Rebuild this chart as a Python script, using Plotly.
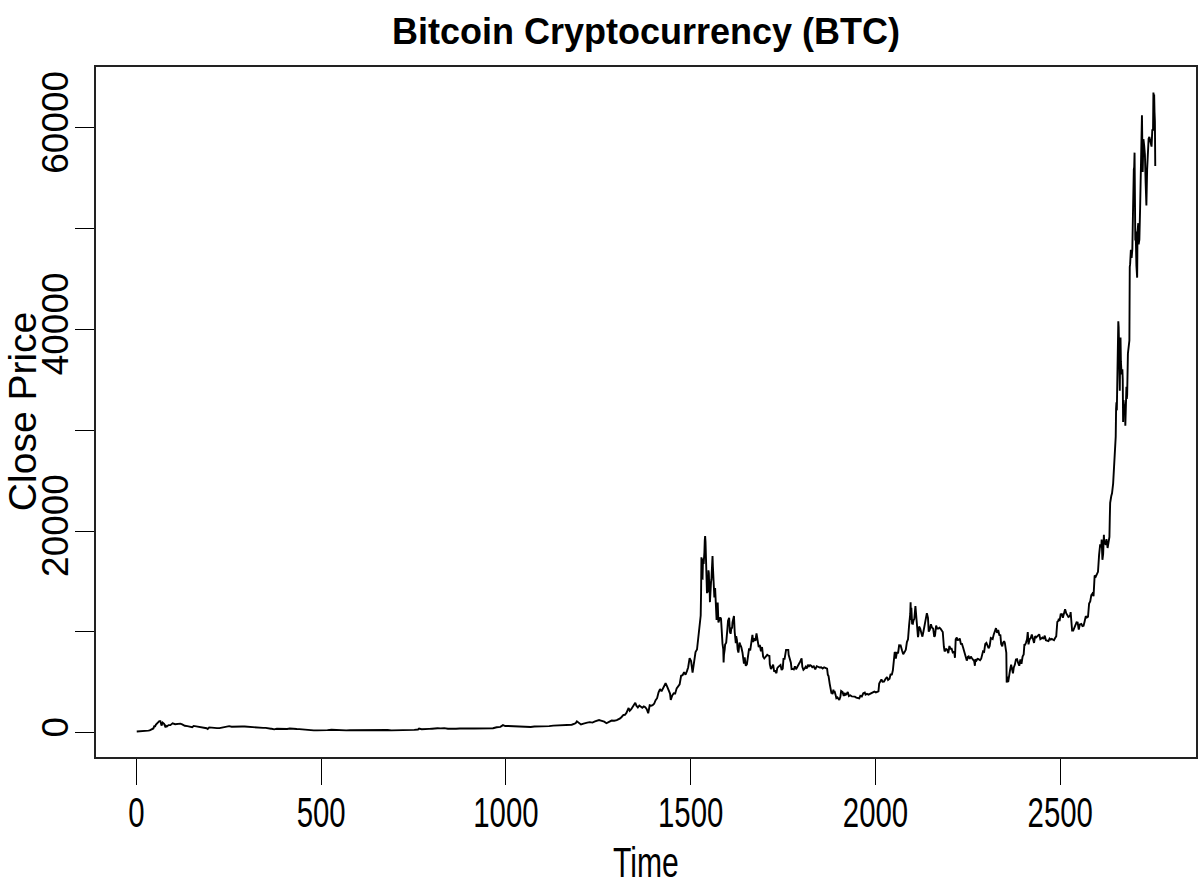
import plotly.graph_objects as go

# Daily close price of Bitcoin, indexed by trading day (day 1 = 1 Oct 2013).
day_2013 = [1, 8, 15, 22, 29, 32, 36, 40, 43, 46, 49, 50, 53, 57, 60, 62, 65, 68, 71, 75, 79, 80, 83, 87, 92]
close_2013 = [123, 126, 150, 190, 200, 205, 225, 290, 340, 420, 690, 580, 800, 960, 1120, 1150, 1150, 705, 1000, 870, 520, 690, 620, 750, 750]

day_2014 = [93, 98, 105, 112, 119, 124, 131, 138, 145, 151, 155, 162, 169, 176, 183, 190, 193, 197, 204, 211,
            218, 225, 232, 239, 244, 251, 258, 265, 272, 279, 286, 293, 300, 307, 314, 321, 328, 336, 343, 350,
            357, 364, 366, 373, 380, 387, 394, 401, 408, 415, 422, 427, 434, 441, 448, 455]
close_2014 = [770, 930, 840, 870, 900, 830, 690, 650, 600, 550, 670, 630, 580, 560, 480, 440, 360, 520, 500, 440,
              450, 450, 520, 580, 630, 650, 590, 580, 600, 630, 620, 620, 590, 590, 570, 500, 510, 480, 475, 475,
              400, 390, 385, 330, 390, 380, 355, 320, 370, 420, 380, 380, 360, 350, 320, 320]

day_2015 = [458, 465, 472, 475, 480, 489, 500, 510, 517, 528, 538, 548, 558, 568, 578, 590, 600, 609, 620, 630,
            639, 650, 660, 670, 680, 690, 701, 712, 722, 731, 742, 752, 762, 765, 772, 782, 792, 800, 808, 815]
close_2015 = [315, 290, 230, 180, 230, 230, 220, 250, 255, 290, 260, 245, 235, 225, 235, 240, 240, 225, 230, 245,
              260, 285, 290, 280, 265, 230, 230, 240, 235, 237, 245, 275, 315, 400, 340, 325, 375, 395, 455, 440]

day_2016 = [823, 833, 843, 854, 865, 875, 883, 895, 905, 914, 925, 935, 944, 955, 965, 975, 985, 992, 998, 1005,
            1015, 1025, 1036, 1046, 1056, 1067, 1077, 1087, 1097, 1107, 1117, 1128, 1138, 1148, 1158, 1168, 1178, 1186]
close_2016 = [430, 450, 385, 370, 390, 420, 435, 415, 415, 415, 425, 450, 450, 455, 445, 535, 580, 750, 660, 670,
              650, 660, 610, 590, 575, 570, 610, 605, 615, 620, 650, 700, 715, 740, 745, 770, 790, 900]

day_2017 = [1189, 1192, 1199, 1203, 1210, 1217, 1220, 1227, 1234, 1241, 1248, 1252, 1257, 1262, 1266, 1272, 1276, 1279, 1286, 1293,
            1300, 1306, 1309, 1313, 1318, 1322, 1326, 1332, 1335, 1339, 1343, 1347, 1350, 1353, 1357, 1361, 1365, 1369, 1373, 1377,
            1381, 1385, 1389, 1393, 1397, 1401, 1405, 1409, 1413, 1417, 1421, 1425, 1429, 1432, 1436, 1440, 1444, 1446, 1450, 1454,
            1458, 1462, 1466, 1470, 1474, 1478, 1482, 1486, 1490, 1493, 1497, 1501, 1505, 1509, 1513, 1517, 1521, 1524, 1527, 1528,
            1529, 1530, 1531, 1532, 1533, 1534, 1535, 1536, 1537, 1538, 1539, 1540, 1541, 1542, 1543, 1544, 1545, 1546, 1547, 1548,
            1549, 1550, 1551, 1552, 1553]
close_2017 = [960, 1130, 900, 820, 900, 920, 990, 1050, 1000, 1120, 1190, 1260, 1200, 1170, 1090, 940, 1050, 1080, 1200, 1180,
              1250, 1330, 1420, 1560, 1760, 1780, 1960, 2450, 2170, 2330, 2520, 2820, 2960, 2680, 2500, 2700, 2590, 2480, 2600, 2520,
              2330, 1930, 2720, 2680, 2730, 2870, 3220, 3420, 4000, 4330, 4100, 4360, 4580, 4900, 4600, 4230, 3880, 3250, 3700, 3900,
              3880, 4400, 4600, 4800, 5650, 5700, 6000, 5750, 6130, 6470, 7400, 7100, 5950, 7300, 8000, 8250, 9900, 10980, 11620, 13860,
              17390, 16370, 15310, 15290, 16890, 17280, 16730, 17180, 17900, 19070, 19500, 18970, 17520, 16460, 15630, 13830, 14700, 13930, 14030, 16100,
              15840, 14610, 14660, 12950, 14160]

day_2018 = [1554, 1555, 1556, 1558, 1559, 1560, 1561, 1562, 1564, 1566, 1569, 1570, 1573, 1574, 1575, 1578, 1580, 1582, 1583, 1584,
            1585, 1586, 1588, 1589, 1590, 1592, 1593, 1596, 1598, 1599, 1601, 1603, 1604, 1606, 1608, 1610, 1612,
            1613, 1615, 1617, 1619, 1620, 1622, 1623, 1625, 1627, 1629, 1630, 1632, 1634, 1636, 1637, 1640, 1642, 1643,
            1644, 1646, 1649, 1652, 1655, 1658, 1661, 1664, 1667, 1669, 1671, 1673,
            1675, 1678, 1681, 1684, 1687, 1690, 1693, 1696, 1699, 1702, 1704,
            1707, 1710, 1713, 1714, 1717, 1720, 1723, 1726, 1728, 1732, 1734,
            1737, 1740, 1743, 1746, 1749, 1751, 1754, 1758, 1761, 1764, 1765,
            1768, 1771, 1773, 1776, 1779, 1782, 1785, 1788, 1791, 1794, 1796,
            1799, 1800, 1802, 1805, 1808, 1811, 1814, 1817, 1820, 1823, 1826,
            1829, 1833, 1837, 1841, 1845, 1849, 1853, 1857,
            1861, 1865, 1869, 1871, 1873, 1876, 1877, 1879, 1881, 1882, 1884, 1886, 1887,
            1889, 1892, 1894, 1897, 1900, 1902, 1905, 1907, 1911, 1914, 1917, 1918]
close_2018 = [13660, 14980, 15200, 17430, 17530, 16480, 15170, 14600, 13410, 14360, 11490, 11190, 12900, 11600, 10930, 11260, 11440, 11310, 10110, 10220,
              9170, 8830, 8280, 6960, 7750, 8270, 8740, 8930, 9490, 10170, 11110, 11230, 11400, 10010, 9810, 10370, 10400,
              10950, 11490, 11570, 9990, 9400, 8870, 9580, 9210, 8270, 7940, 8220, 8940, 8740, 8550, 8470, 7960, 6840, 7080,
              6840, 7460, 6640, 6770, 7920, 8360, 8160, 8850, 9700, 8990, 9350, 9240,
              9120, 9860, 9190, 8480, 8710, 8070, 8490, 7530, 7360, 7500, 7490,
              7720, 7650, 7620, 6790, 6310, 6500, 6740, 6040, 6170, 5900, 6390,
              6530, 6670, 6710, 6220, 6350, 7320, 7330, 8210, 8230, 8210, 7730,
              7420, 6950, 6310, 6330, 6270, 6580, 6300, 6530, 6710, 7050, 7040,
              7260, 7370, 6530, 6240, 6340, 6540, 6370, 6740, 6590, 6690, 6630,
              6500, 6590, 6280, 6600, 6490, 6460, 6480, 6370,
              6490, 6410, 6360, 5740, 5620, 4870, 4450, 4270, 3880, 4010, 3820, 4280, 4020,
              4140, 3750, 3420, 3500, 3270, 3240, 3550, 4130, 4020, 3650, 3950, 3740]

day_2019 = [1921, 1925, 1928, 1932, 1936, 1940, 1944, 1948,
            1952, 1956, 1959, 1963, 1967, 1971, 1973, 1977,
            1981, 1985, 1989, 1993, 1997, 2001, 2005, 2008,
            2010, 2013, 2016, 2019, 2023, 2027, 2031, 2034, 2038,
            2041, 2044, 2047, 2049, 2051, 2052, 2054, 2055, 2058, 2061, 2064, 2068,
            2072, 2075, 2079, 2082, 2085, 2088, 2091, 2094, 2095, 2096, 2097, 2099,
            2101, 2103, 2105, 2108, 2109, 2111, 2113, 2115, 2116, 2118, 2121, 2124, 2127, 2130,
            2133, 2136, 2139, 2142, 2144, 2147, 2150, 2153, 2156, 2159, 2161,
            2164, 2167, 2170, 2173, 2176, 2179, 2182, 2185, 2187, 2191,
            2194, 2197, 2200, 2203, 2206, 2209, 2213, 2215, 2216, 2217, 2220, 2222,
            2225, 2228, 2231, 2234, 2237, 2240, 2243, 2244, 2247, 2250, 2252,
            2255, 2258, 2261, 2264, 2267, 2269, 2270, 2273, 2276, 2279, 2283]
close_2019 = [3780, 4030, 3630, 3710, 3600, 3580, 3580, 3480,
              3410, 3400, 3660, 3590, 3910, 3980, 3770, 3850,
              3780, 3870, 3890, 4030, 4080, 4000, 4050, 4110,
              4880, 5040, 5290, 5060, 5070, 5320, 5520, 5230, 5350,
              5830, 5710, 6190, 7000, 7810, 7990, 7880, 7360, 8000, 7880, 8670, 8660,
              8120, 7790, 8020, 8230, 8990, 9270, 10700, 11780, 12930, 11180, 12400, 10820,
              10800, 11160, 11280, 12570, 12100, 11350, 10260, 9470, 9700, 10530, 10330, 9880, 9530, 10090,
              10810, 11460, 11860, 11390, 10020, 10230, 10760, 10410, 10340, 9510, 9630,
              10620, 10330, 10340, 10410, 10310, 10160, 9990, 8530, 8060, 8290,
              8230, 7890, 8600, 8320, 8320, 7950, 8020, 7430, 8660, 9260, 9430, 9200,
              9210, 9340, 8810, 8800, 8460, 8040, 7630, 7280, 7150, 7520, 7570,
              7320, 7550, 7380, 7240, 7100, 6640, 7280, 7150, 7320, 7290, 7190]

day_2020 = [2286, 2289, 2291, 2294, 2297, 2300, 2303, 2306, 2309, 2312, 2314,
            2317, 2320, 2323, 2326, 2329, 2332, 2335, 2338, 2340, 2343,
            2345, 2348, 2350, 2352, 2354, 2355, 2356, 2359, 2362, 2364, 2367, 2370, 2372, 2374,
            2377, 2380, 2383, 2386, 2389, 2392, 2395, 2398, 2401, 2403, 2404,
            2407, 2410, 2412, 2414, 2417, 2420, 2423, 2426, 2429, 2432, 2435,
            2437, 2440, 2443, 2446, 2449, 2452, 2455, 2458, 2461, 2465,
            2468, 2471, 2474, 2477, 2480, 2483, 2486, 2489, 2492, 2495, 2496,
            2498, 2501, 2504, 2507, 2510, 2513, 2516, 2519, 2522, 2525, 2527,
            2528, 2530, 2532, 2535, 2538, 2541, 2544, 2547, 2550, 2553, 2557,
            2560, 2563, 2566, 2569, 2572, 2575, 2578, 2581, 2584, 2587,
            2590, 2593, 2596, 2599, 2602, 2605, 2608, 2611, 2612, 2614, 2616, 2618,
            2619, 2622, 2625, 2628, 2630, 2633, 2634, 2635, 2638, 2640, 2643, 2645, 2647, 2649]
close_2020 = [7340, 7770, 8080, 8030, 8810, 8910, 8630, 8380, 8600, 9390, 9350,
              9290, 9750, 10130, 10370, 9910, 10180, 9690, 9660, 8790, 8560,
              8910, 9080, 8900, 7910, 7910, 4970, 5560, 5010, 6190, 6190, 6740, 6370, 5880, 6440,
              6730, 7270, 7300, 6910, 6640, 7260, 6840, 7550, 7760, 8790, 8660,
              8910, 9270, 9990, 8760, 9270, 9380, 9730, 9170, 8900, 9580, 9460,
              9530, 9630, 9760, 9280, 9390, 9430, 9300, 9630, 9170, 9140,
              9090, 9340, 9240, 9300, 9190, 9170, 9390, 9550, 11000, 11110, 11320,
              11070, 11750, 11770, 11410, 11780, 12250, 11860, 11680, 11480, 11540, 11680,
              11970, 10250, 10130, 10130, 10450, 10680, 10940, 10920, 10230, 10740, 10790,
              10570, 10600, 11060, 11550, 11430, 11500, 12820, 13030, 13650, 13800,
              13550, 15590, 15480, 15700, 15960, 17640, 18680, 18410, 19160, 17150, 17730, 19630,
              18800, 18720, 19190, 18320, 18810, 19430, 21310, 22810, 23480, 23740, 24710, 26270, 27360, 29000]

day_2021 = [2650, 2651, 2652, 2653, 2654, 2655, 2656, 2657, 2658, 2659, 2660, 2661, 2662, 2663, 2664, 2665, 2666,
            2668, 2669, 2670, 2671, 2673, 2675, 2676, 2677, 2679, 2680,
            2681, 2683, 2685, 2687, 2688, 2689, 2691, 2693, 2695, 2696, 2697, 2699, 2700, 2701, 2702, 2703, 2704, 2706, 2708,
            2709, 2711, 2712, 2714, 2716, 2718, 2720, 2721, 2723, 2725, 2727, 2729, 2731, 2733, 2735, 2737, 2739,
            2741, 2743, 2745, 2747, 2749, 2751, 2752, 2753, 2754, 2755, 2756, 2757]
close_2021 = [29370, 32130, 32780, 31970, 33990, 36820, 39370, 40800, 40250, 38360, 35570, 33920, 37320, 39190, 36830, 36070, 35550,
              36040, 35050, 30830, 32990, 32290, 32570, 30440, 33470, 34320, 33110,
              33540, 37620, 38140, 38900, 46200, 46480, 47910, 47100, 47950, 49200, 52150, 55890, 56100, 57540, 54210, 48820, 49710, 46340, 45140,
              49630, 50540, 48440, 48910, 52020, 55960, 57230, 61240, 55610, 58870, 58240, 57350, 54530, 52300, 55880, 57750, 58920,
              59100, 58760, 58190, 58140, 59790, 59800, 63500, 63110, 63310, 61570, 60680, 56220]

x_ticks = [0, 500, 1000, 1500, 2000, 2500]
y_ticks = [0, 10000, 20000, 30000, 40000, 50000, 60000]
y_tick_text = ["0", "", "20000", "", "40000", "", "60000"]

days = day_2013 + day_2014 + day_2015 + day_2016 + day_2017 + day_2018 + day_2019 + day_2020 + day_2021
closes = close_2013 + close_2014 + close_2015 + close_2016 + close_2017 + close_2018 + close_2019 + close_2020 + close_2021
assert len(days) == len(closes)


# base-R style 4% padding around the data range
def padded(lo, hi, frac=0.04):
    span = hi - lo
    return [lo - frac * span, hi + frac * span]


FONT = "Liberation Sans, Arial, Helvetica, sans-serif"

fig = go.Figure(
    go.Scatter(
        x=days, y=closes, mode="lines",
        line=dict(color="black", width=1.9),
        hoverinfo="skip",
    )
)

fig.update_layout(
    width=1199, height=886,
    margin=dict(l=96, r=1, t=67, b=129),
    paper_bgcolor="white", plot_bgcolor="white",
    showlegend=False,
    title=dict(
        text="<b>Bitcoin Cryptocurrency (BTC)</b>",
        font=dict(family=FONT, size=36, color="black"),
        x=0.5, xref="paper", xanchor="center",
        y=1 - 31 / 886, yref="container", yanchor="middle",
    ),
    xaxis=dict(
        range=padded(min(days), max(days)),
        tickvals=x_ticks, ticktext=[str(v) for v in x_ticks],
        ticks="outside", ticklen=26, tickwidth=1.2, tickcolor="black",
        tickfont=dict(family=FONT, size=42, color="black"),
        ticklabelstandoff=-8,
        showline=True, mirror=True, linecolor="#222", linewidth=1.6,
        showgrid=False, zeroline=False,
    ),
    yaxis=dict(
        range=padded(min(closes), max(closes)),
        tickvals=y_ticks, ticktext=y_tick_text,
        tickangle=-90,
        ticks="outside", ticklen=19, tickwidth=1.2, tickcolor="black",
        tickfont=dict(family=FONT, size=37, color="black"),
        ticklabelstandoff=-8,
        showline=True, mirror=True, linecolor="#222", linewidth=1.6,
        showgrid=False, zeroline=False,
    ),
    annotations=[
        dict(text="Time", xref="paper", yref="paper", x=0.5, y=(757 - 862) / 690,
             xanchor="center", yanchor="middle", showarrow=False,
             font=dict(family=FONT, size=43, color="black")),
        dict(text="Close Price", xref="paper", yref="paper", x=(22 - 96) / 1102, y=0.5,
             xanchor="center", yanchor="middle", showarrow=False, textangle=-90,
             font=dict(family=FONT, size=39, color="black")),
    ],
)

# Narrow (condensed) rendering of the horizontal x-axis texts.
condense_js = """
var gd = document.getElementById('{plot_id}');
function condense(nodes, s) {
  nodes.forEach(function (t) {
    var b = t.getBBox();
    var cx = b.x + b.width / 2;
    var tr = t.getAttribute('transform') || '';
    t.setAttribute('transform', tr + ' translate(' + cx + ',0) scale(' + s + ',1) translate(' + (-cx) + ',0)');
  });
}
condense(Array.prototype.slice.call(gd.querySelectorAll('.xtick text')), 0.7);
condense(Array.prototype.slice.call(gd.querySelectorAll('.annotation-text')).filter(function (t) {
  return t.textContent === 'Time';
}), 0.7);
"""

fig.write_html("out.html", post_script=condense_js)
